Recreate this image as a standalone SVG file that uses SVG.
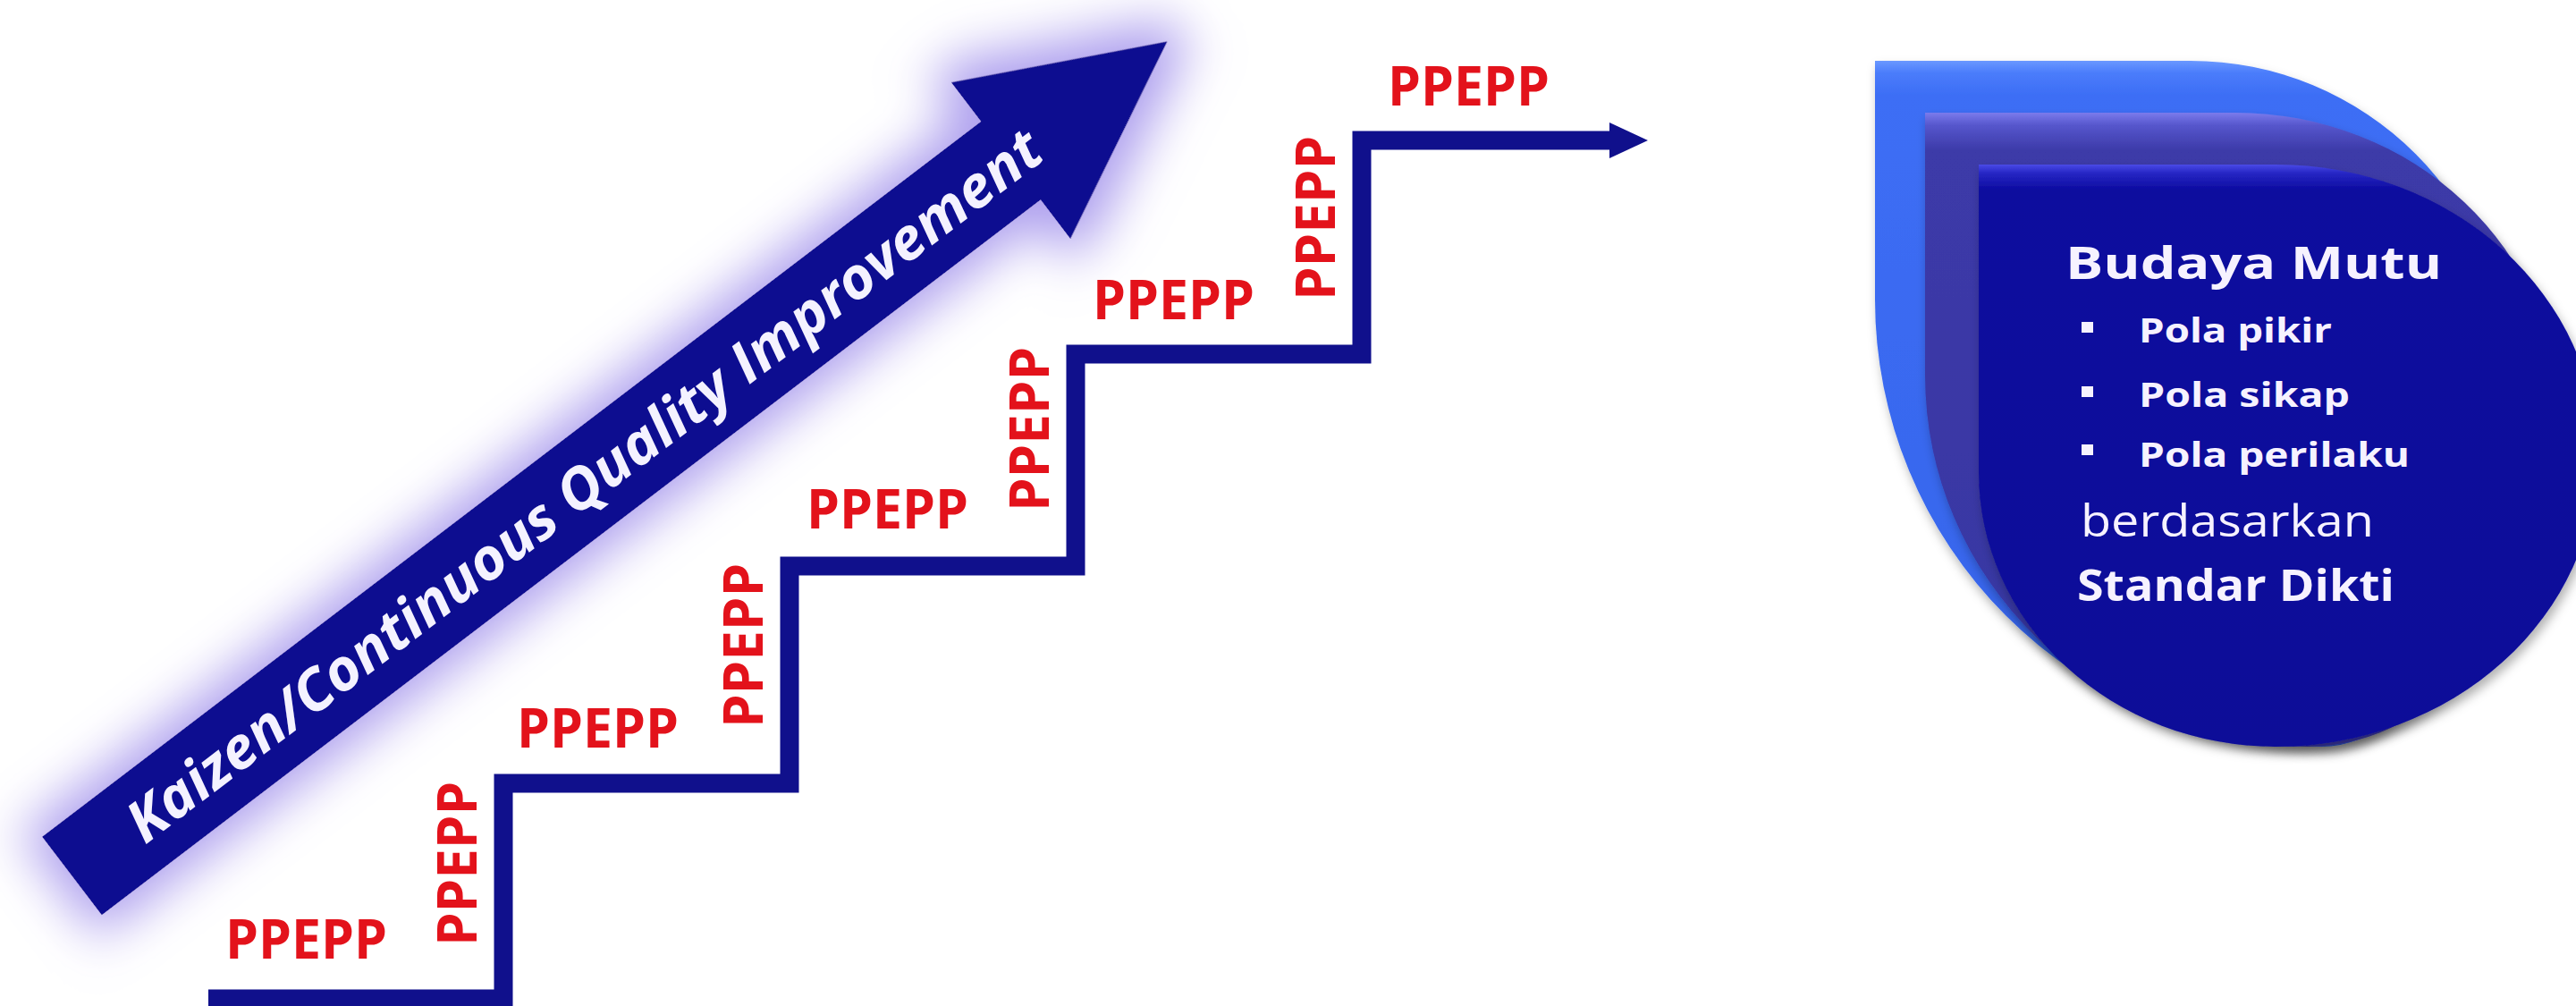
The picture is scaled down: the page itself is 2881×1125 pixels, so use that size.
<svg xmlns="http://www.w3.org/2000/svg" width="2881" height="1125" viewBox="0 0 2881 1125">
<defs>
<style>
.lbl{font-family:"Open Sans","Liberation Sans",sans-serif;font-weight:700;font-size:60px;fill:#e3121b}
.stair{fill:none;stroke:#10108c;stroke-width:21;stroke-linejoin:miter}
.bx{font-family:"Open Sans","Liberation Sans",sans-serif;fill:#f6f2ff}
.b{font-weight:700}
</style>
<filter id="glow" filterUnits="userSpaceOnUse" x="-200" y="-320" width="1950" height="640">
<feMorphology in="SourceAlpha" operator="dilate" radius="18" result="d"/>
<feGaussianBlur in="d" stdDeviation="28" result="bl"/>
<feFlood flood-color="#a494ec" flood-opacity="0.9"/>
<feComposite in2="bl" operator="in" result="g"/>
<feMerge><feMergeNode in="g"/><feMergeNode in="SourceGraphic"/></feMerge>
</filter>
<filter id="shadow" x="-10%" y="-10%" width="125%" height="125%">
<feDropShadow dx="3" dy="7" stdDeviation="6" flood-color="#000" flood-opacity="0.3"/>
</filter>
<linearGradient id="gBack" x1="0" y1="0" x2="0" y2="1">
<stop offset="0" stop-color="#6a98ff"/><stop offset="0.018" stop-color="#4a7cfb"/><stop offset="0.05" stop-color="#3d6ef5"/><stop offset="1" stop-color="#3563ea"/>
</linearGradient>
<linearGradient id="gMid" x1="0" y1="0" x2="0" y2="1">
<stop offset="0" stop-color="#7b7bec"/><stop offset="0.02" stop-color="#5656cc"/><stop offset="0.06" stop-color="#3c3aa8"/><stop offset="1" stop-color="#3836a2"/>
</linearGradient>
<linearGradient id="gFront" x1="0" y1="0" x2="0" y2="1">
<stop offset="0" stop-color="#4a4ae6"/><stop offset="0.015" stop-color="#2626c4"/><stop offset="0.045" stop-color="#0b0a9e"/><stop offset="1" stop-color="#0a0a98"/>
</linearGradient>
</defs>
<rect width="2881" height="1125" fill="#ffffff"/>

<g id="kaizen-arrow" transform="translate(80.5,979.5) rotate(-37.3)">
<path d="M0,-55 H1320 V-110 L1540,0 L1320,110 V55 H0 Z" fill="#0c0890" filter="url(#glow)"/>
<text x="86" y="22" font-family="Open Sans, Liberation Sans, sans-serif" font-weight="700" font-style="italic" font-size="64" fill="#f4f2ff" textLength="1268" lengthAdjust="spacingAndGlyphs">Kaizen/Continuous Quality Improvement</text>
</g>

<g id="connectors">
<path class="stair" d="M233,1117 H563 V876 H883 V633 H1203 V396 H1523 V157 H1806"/>
<polygon points="1800,137 1843,157 1800,177" fill="#10108c"/>
</g>

<g id="labels-horizontal">
<text class="lbl" x="252" y="1072" textLength="181" lengthAdjust="spacingAndGlyphs">PPEPP</text>
<text class="lbl" x="578" y="836" textLength="181" lengthAdjust="spacingAndGlyphs">PPEPP</text>
<text class="lbl" x="902" y="591" textLength="181" lengthAdjust="spacingAndGlyphs">PPEPP</text>
<text class="lbl" x="1222" y="357" textLength="181" lengthAdjust="spacingAndGlyphs">PPEPP</text>
<text class="lbl" x="1552" y="118" textLength="181" lengthAdjust="spacingAndGlyphs">PPEPP</text>
</g>
<g id="labels-vertical">
<text class="lbl" transform="translate(533,1058) rotate(-90)" textLength="184" lengthAdjust="spacingAndGlyphs">PPEPP</text>
<text class="lbl" transform="translate(853,814) rotate(-90)" textLength="184" lengthAdjust="spacingAndGlyphs">PPEPP</text>
<text class="lbl" transform="translate(1173,572) rotate(-90)" textLength="184" lengthAdjust="spacingAndGlyphs">PPEPP</text>
<text class="lbl" transform="translate(1493,336) rotate(-90)" textLength="184" lengthAdjust="spacingAndGlyphs">PPEPP</text>
</g>

<g id="budaya-mutu">
<path d="M2097,68 H2450 A356,356 0 0 1 2806,424 A209,411 0 0 1 2597,835 A500,500 0 0 1 2097,335 Z" fill="url(#gBack)" filter="url(#shadow)"/>
<path d="M2153,126 H2500 A362,341 0 0 1 2862,467 A282,368 0 0 1 2580,835 A427,415 0 0 1 2153,420 Z" fill="url(#gMid)" filter="url(#shadow)"/>
<path d="M2213,184 H2545 A360,326 0 0 1 2905,510 A360,325 0 0 1 2545,835 A332,307 0 0 1 2213,528 Z" fill="url(#gFront)" filter="url(#shadow)"/>
<text class="bx b" x="2310" y="312" font-size="50" textLength="421" lengthAdjust="spacingAndGlyphs">Budaya Mutu</text>
<rect x="2328" y="360" width="13" height="12" fill="#f6f2ff"/>
<text class="bx b" x="2392" y="383" font-size="37" textLength="216" lengthAdjust="spacingAndGlyphs">Pola pikir</text>
<rect x="2328" y="432" width="13" height="12" fill="#f6f2ff"/>
<text class="bx b" x="2392" y="455" font-size="37" textLength="236" lengthAdjust="spacingAndGlyphs">Pola sikap</text>
<rect x="2328" y="497" width="13" height="12" fill="#f6f2ff"/>
<text class="bx b" x="2392" y="522" font-size="37" textLength="303" lengthAdjust="spacingAndGlyphs">Pola perilaku</text>
<text class="bx" x="2327" y="600" font-size="49" textLength="328" lengthAdjust="spacingAndGlyphs">berdasarkan</text>
<text class="bx b" x="2323" y="672" font-size="49" textLength="355" lengthAdjust="spacingAndGlyphs">Standar Dikti</text>
</g>
</svg>
